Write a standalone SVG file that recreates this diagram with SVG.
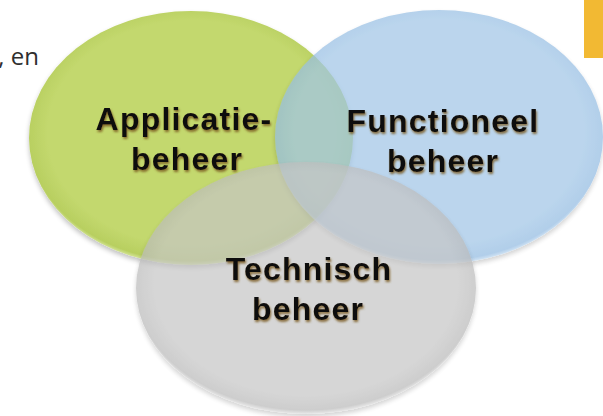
<svg xmlns="http://www.w3.org/2000/svg" width="603" height="416" viewBox="0 0 603 416">
  <style>
    .lbl { font-family: "Liberation Sans", Arial, sans-serif; font-weight: bold; font-size: 32px; letter-spacing: 1.2px; fill: #111; text-anchor: middle; filter: url(#glow); }
    .page { font-family: "Open Sans", "Noto Sans", sans-serif; font-size: 24px; fill: #2e2e2e; }
  </style>
  <defs>
    <filter id="glow" x="-10%" y="-30%" width="120%" height="160%">
      <feGaussianBlur in="SourceAlpha" stdDeviation="1.3" result="b"/>
      <feOffset in="b" dx="1" dy="1.5" result="o"/>
      <feFlood flood-color="#7a5a20" flood-opacity="0.85"/>
      <feComposite in2="o" operator="in" result="s"/>
      <feMerge><feMergeNode in="s"/><feMergeNode in="SourceGraphic"/></feMerge>
    </filter>
    <filter id="soft" x="-10%" y="-10%" width="120%" height="125%">
      <feGaussianBlur in="SourceAlpha" stdDeviation="2.5" result="b"/>
      <feOffset in="b" dx="0" dy="3" result="o"/>
      <feComponentTransfer in="o" result="s"><feFuncA type="linear" slope="0.25"/></feComponentTransfer>
      <feMerge><feMergeNode in="s"/><feMergeNode in="SourceGraphic"/></feMerge>
    </filter>
    <radialGradient id="gGreen" cx="50%" cy="48%" r="52%">
      <stop offset="0.85" stop-color="#c3d86e"/>
      <stop offset="0.97" stop-color="#b8cf60"/>
      <stop offset="1" stop-color="#d6e69a"/>
    </radialGradient>
    <radialGradient id="gBlue" cx="50%" cy="48%" r="52%">
      <stop offset="0.85" stop-color="#a1c6e7"/>
      <stop offset="0.97" stop-color="#94bce2"/>
      <stop offset="1" stop-color="#c4dcf2"/>
    </radialGradient>
    <radialGradient id="gGray" cx="50%" cy="48%" r="52%">
      <stop offset="0.85" stop-color="#c6c6c6"/>
      <stop offset="0.97" stop-color="#b9b9b9"/>
      <stop offset="1" stop-color="#e0e0e0"/>
    </radialGradient>
  </defs>
  <rect width="603" height="416" fill="#ffffff"/>
  <rect x="584" y="0" width="19" height="58" fill="#f2b933"/>
  <text class="page" x="39" y="65" text-anchor="end">, en</text>

  <g id="applicatiebeheer">
    <ellipse cx="191" cy="138" rx="162" ry="127" fill="url(#gGreen)" filter="url(#soft)"/>
  </g>
  <g id="functioneelbeheer">
    <ellipse cx="439" cy="137" rx="164" ry="127" fill="url(#gBlue)" opacity="0.72" filter="url(#soft)"/>
  </g>
  <g id="technischbeheer">
    <ellipse cx="306" cy="288" rx="170" ry="126" fill="url(#gGray)" opacity="0.7" filter="url(#soft)"/>
  </g>

  <g id="labels">
    <text class="lbl" x="184" y="130">Applicatie-</text>
    <text class="lbl" x="187" y="170">beheer</text>
    <text class="lbl" x="443" y="132">Functioneel</text>
    <text class="lbl" x="443" y="172">beheer</text>
    <text class="lbl" x="309" y="280">Technisch</text>
    <text class="lbl" x="308" y="320">beheer</text>
  </g>
</svg>
